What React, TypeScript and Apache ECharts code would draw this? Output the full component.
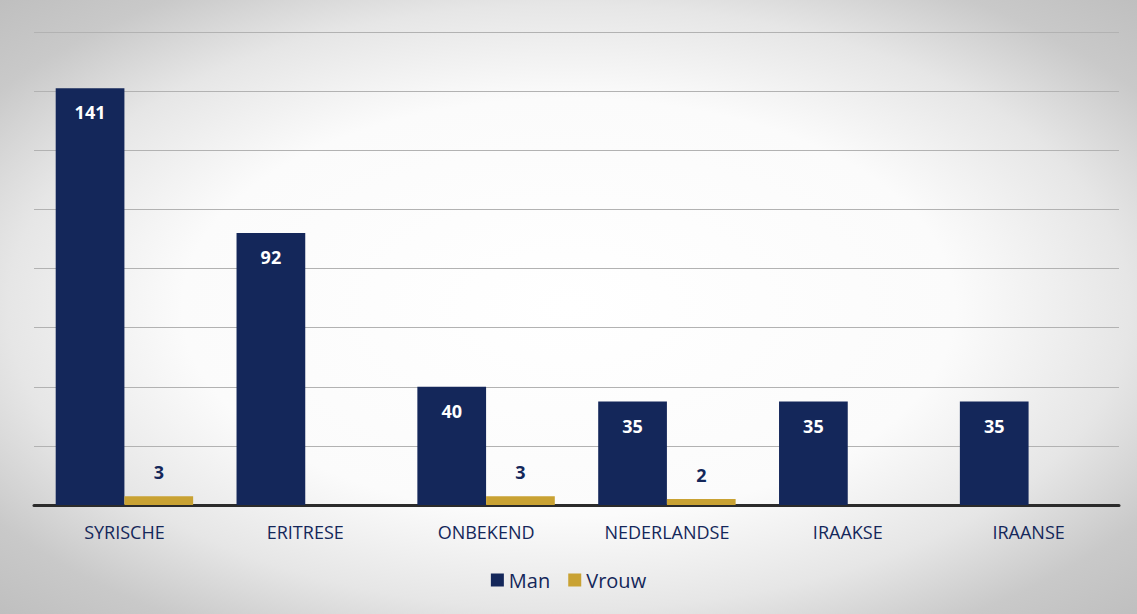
import React, { useEffect, useRef } from "react";
import * as echarts from "echarts";

const categories = ["SYRISCHE", "ERITRESE", "ONBEKEND", "NEDERLANDSE", "IRAAKSE", "IRAANSE"];
const manValues = [141, 92, 40, 35, 35, 35];
const vrouwValues = [3, null, 3, 2, null, null];
const seriesNames = ["Man", "Vrouw"];

const NAVY = "#14275a";
const GOLD = "#c9a233";
const FONT = "'Open Sans', 'Noto Sans', sans-serif";

export default function App() {
  const ref = useRef<HTMLDivElement>(null);
  useEffect(() => {
    if (!ref.current) return;
    const chart = echarts.init(ref.current, undefined, { renderer: "svg" });
    chart.setOption({
      animation: false,
      backgroundColor: {
        type: "radial",
        x: 0.5,
        y: 0.5,
        r: 0.85,
        colorStops: [
          { offset: 0, color: "#ffffff" },
          { offset: 0.4, color: "#fbfbfb" },
          { offset: 0.58, color: "#e6e6e6" },
          { offset: 0.72, color: "#c9c9c9" },
          { offset: 1, color: "#b0b0b0" },
        ],
      },
      grid: { left: 34, right: 18, top: 32, bottom: 109, containLabel: false },
      legend: {
        data: seriesNames,
        bottom: 19,
        left: "center",
        itemWidth: 13,
        itemHeight: 13,
        itemGap: 18,
        icon: "rect",
        textStyle: { color: NAVY, fontSize: 20, fontFamily: FONT },
      },
      xAxis: {
        type: "category",
        data: categories,
        axisLine: { show: true, lineStyle: { color: "#2b2b2b", width: 3 } },
        axisTick: { show: false },
        axisLabel: { color: NAVY, fontSize: 18, fontFamily: FONT, margin: 18 },
      },
      yAxis: {
        type: "value",
        min: 0,
        max: 160,
        interval: 20,
        axisLabel: { show: false },
        axisLine: { show: false },
        axisTick: { show: false },
        splitLine: { lineStyle: { color: "#b2b2b2", width: 1 } },
      },
      series: [
        {
          name: seriesNames[0],
          type: "bar",
          data: manValues,
          barGap: "0%",
          barCategoryGap: "24%",
          itemStyle: { color: NAVY },
          label: {
            show: true,
            position: "insideTop",
            distance: 15,
            color: "#ffffff",
            fontWeight: "bold",
            fontSize: 18,
            fontFamily: FONT,
          },
        },
        {
          name: seriesNames[1],
          type: "bar",
          data: vrouwValues,
          itemStyle: { color: GOLD },
          label: {
            show: true,
            position: "top",
            distance: 15,
            color: NAVY,
            fontWeight: "bold",
            fontSize: 18,
            fontFamily: FONT,
          },
        },
      ],
    });
    return () => chart.dispose();
  }, []);
  return (
    <div
      ref={ref}
      style={{ position: "absolute", left: 0, top: 0, width: 1137, height: 614 }}
    />
  );
}
